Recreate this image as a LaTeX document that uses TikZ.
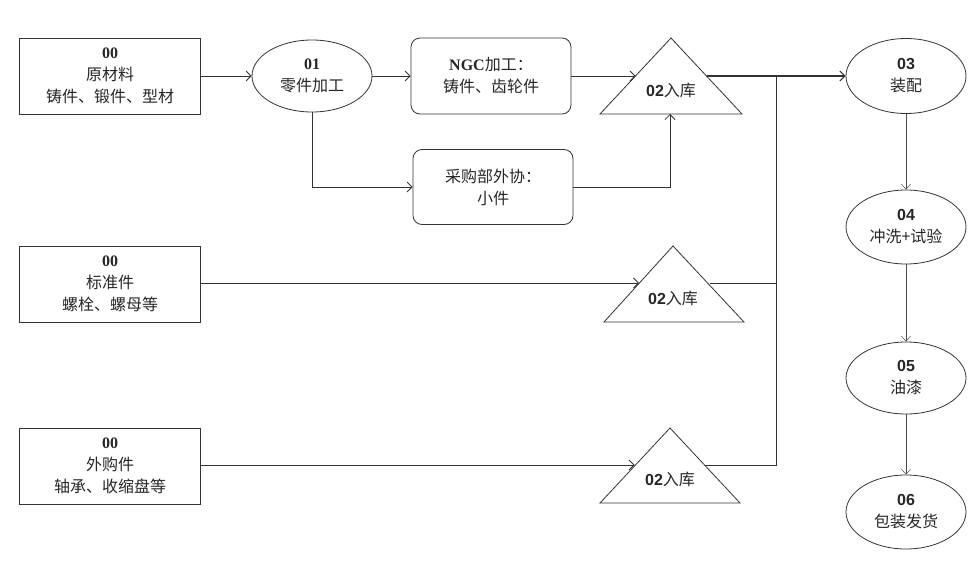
\documentclass[tikz,border=0pt]{standalone}
\usepackage{fontspec}
\setmainfont{Liberation Serif}
\newfontfamily\cjk{Noto Sans CJK SC}
\newfontfamily\numsans{Liberation Sans}
\usetikzlibrary{shapes.geometric,arrows.meta}
\begin{document}
\begin{tikzpicture}[x=1pt,y=-1pt,
  every node/.style={font=\cjk\fontsize{16}{22}\selectfont, align=center, text=black!85},
  line/.style={draw=black!80, line width=0.8pt},
  arr/.style={line, -{Straight Barb[length=5pt,width=10pt]}},
  thin/.style={draw=black!70, line width=0.5pt, -{Straight Barb[length=5pt,width=9pt]}},
  sqbox/.style={draw=black!80, line width=0.8pt, minimum width=181pt, minimum height=76pt, inner sep=0pt},
  rbox/.style={sqbox, rounded corners=9pt, minimum width=160pt, minimum height=76pt},
  proc/.style={draw=black!80, line width=0.8pt, ellipse, minimum width=120pt, minimum height=74pt, inner sep=0pt},
  tri/.style={draw=black!80, line width=0.8pt}
]
\useasboundingbox (0,0) rectangle (977,565);

% left boxes
\node[sqbox] (a) at (110,76) {{\rmfamily\bfseries 00}\\原材料\\铸件、锻件、型材};
\node[sqbox] (b) at (110,284) {{\rmfamily\bfseries 00}\\标准件\\螺栓、螺母等};
\node[sqbox] (c) at (110,466) {{\rmfamily\bfseries 00}\\外购件\\轴承、收缩盘等};

% process 01
\node[proc, minimum height=72pt] (p1) at (312,76) {{\rmfamily\bfseries 01}\\零件加工};

% rounded boxes
\node[rbox] (ngc) at (491,76) {{\rmfamily\bfseries NGC}加工：\\铸件、齿轮件};
\node[rbox, minimum height=75pt] (cg) at (493,187) {采购部外协：\\小件};

% triangles
\draw[tri] (600,114) -- (671,38) -- (742,114) -- cycle;
\node (t1) at (671,90) {{\numsans\bfseries 02}入库};
\coordinate (t1l) at (635.5,76);
\coordinate (t1r) at (706.5,76);
\coordinate (t1b) at (670,114);

\draw[tri] (604,322) -- (673,246) -- (744,322) -- cycle;
\node (t2) at (673,298) {{\numsans\bfseries 02}入库};
\coordinate (t2l) at (639,283);
\coordinate (t2r) at (710,283);

\draw[tri] (600,503) -- (670,428) -- (740,503) -- cycle;
\node (t3) at (670,479) {{\numsans\bfseries 02}入库};
\coordinate (t3l) at (634.5,465);
\coordinate (t3r) at (705,465);

% right column
\node[proc, minimum height=75pt] (p3) at (906,76) {{\numsans\bfseries 03}\\装配};
\node[proc] (p4) at (906,227) {{\numsans\bfseries 04}\\冲洗+试验};
\node[proc, minimum height=72pt] (p5) at (906,378) {{\numsans\bfseries 05}\\油漆};
\node[proc] (p6) at (906,512) {{\numsans\bfseries 06}\\包装发货};

\coordinate (j1) at (776,76);
\coordinate (j2) at (776,283);
\coordinate (j3) at (776,465);

% connectors
\draw[arr] (a.east) -- (p1.west);
\draw[arr] (p1.east) -- (ngc.west);
\draw[arr] (p1.south) |- (cg.west);
\draw[arr] (ngc.east) -- (t1l);
\draw[arr] (cg.east) -| (t1b);
\draw[arr] (b.east |- t2l) -- (t2l);
\draw[arr] (c.east |- t3l) -- (t3l);
\draw[line] (t2r) -- (j2);
\draw[line] (t3r) -- (j3) -- (j1);
\draw[arr, line width=1.1pt] (t1r) -- (p3.west);
\draw[thin] (p3.south) -- (p4.north);
\draw[thin] (p4.south) -- (p5.north);
\draw[thin] (p5.south) -- (p6.north);
\end{tikzpicture}
\end{document}
